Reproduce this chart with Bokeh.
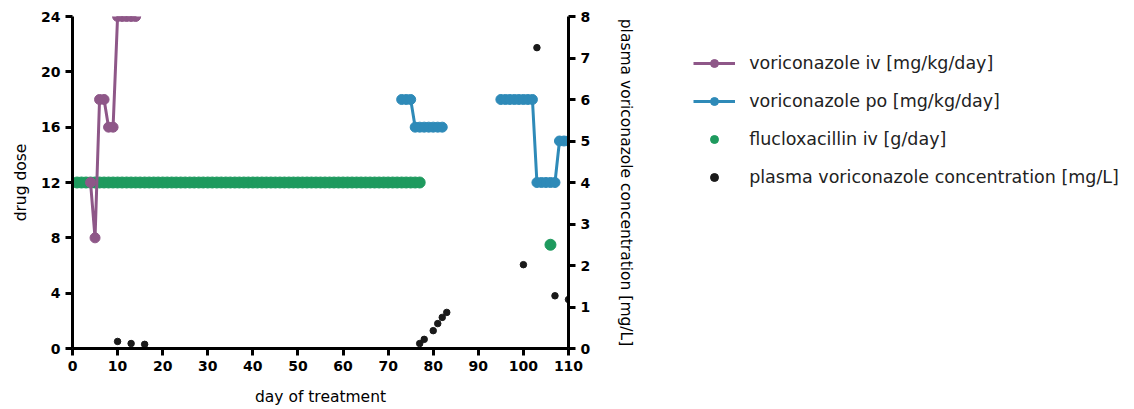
import numpy as np
from bokeh.plotting import figure
from bokeh.models import Range1d, LinearAxis, Legend, LegendItem, FixedTicker
from bokeh.embed import file_html
from bokeh.resources import INLINE

# voriconazole iv [mg/kg/day]
iv_days = [4, 5, 6, 7, 8, 9, 10, 11, 12, 13, 14]
iv_dose = [12, 8, 18, 18, 16, 16, 24, 24, 24, 24, 24]

# voriconazole po [mg/kg/day] (two courses)
po1_days = [73, 74, 75, 76, 77, 78, 79, 80, 81, 82]
po1_dose = [18, 18, 18, 16, 16, 16, 16, 16, 16, 16]
po2_days = [95, 96, 97, 98, 99, 100, 101, 102, 103, 104, 105, 106, 107, 108, 109, 110]
po2_dose = [18, 18, 18, 18, 18, 18, 18, 18, 12, 12, 12, 12, 12, 15, 15, 15]

# flucloxacillin iv [g/day]
flu_days = list(range(1, 78)) + [106]
flu_dose = [12] * 77 + [7.5]

# plasma voriconazole concentration [mg/L]
conc_days = [10, 13, 16, 77, 78, 80, 81, 82, 83, 100, 103, 107, 110]
conc_vals = [0.17, 0.12, 0.10, 0.12, 0.22, 0.43, 0.60, 0.75, 0.87, 2.02, 7.25, 1.27, 1.18]

x_ticks = list(range(0, 111, 10))
left_ticks = list(range(0, 25, 4))
right_ticks = list(range(0, 9))

PURPLE = "#8E5788"
BLUE = "#2E8AB8"
GREEN = "#1E9A5E"
BLACK = "#1a1a1a"
FONT = "DejaVu Sans"

p = figure(frame_width=496, frame_height=332, output_backend="svg", toolbar_location=None,
           x_range=Range1d(0, 110), y_range=Range1d(0, 24),
           min_border_left=72, min_border_top=16, min_border_bottom=0, min_border_right=560)
p.extra_y_ranges = {"conc": Range1d(0, 8)}
p.grid.visible = False
p.outline_line_color = None
p.background_fill_color = "white"

def style_axis(ax):
    ax.axis_line_width = 3
    ax.axis_line_color = "black"
    ax.major_tick_line_width = 3
    ax.major_tick_line_color = "black"
    ax.major_tick_out = 7
    ax.major_tick_in = 0
    ax.minor_tick_line_color = None
    ax.major_label_text_font = FONT
    ax.major_label_text_font_style = "bold"
    ax.major_label_text_font_size = "14px"
    ax.major_label_text_color = "black"
    ax.axis_label_text_font = FONT
    ax.axis_label_text_font_style = "normal"
    ax.axis_label_text_font_size = "15.5px"
    ax.axis_label_text_color = "black"

p.xaxis.ticker = FixedTicker(ticks=x_ticks)
p.xaxis.axis_label = "day of treatment"
p.yaxis.ticker = FixedTicker(ticks=left_ticks)
p.yaxis.axis_label = "drug dose"
style_axis(p.xaxis[0])
style_axis(p.yaxis[0])
p.xaxis.axis_label_standoff = 14
p.yaxis.axis_label_standoff = 8

raxis = LinearAxis(y_range_name="conc", ticker=FixedTicker(ticks=right_ticks),
                   axis_label="plasma voriconazole concentration [mg/L]")
style_axis(raxis)
raxis.axis_label_standoff = 24
p.add_layout(raxis, "right")

# flucloxacillin
r_flu = p.scatter(flu_days, flu_dose, size=11, color=GREEN, line_color=GREEN)

# voriconazole iv
l_iv = p.line(iv_days, iv_dose, line_width=3, color=PURPLE)
s_iv = p.scatter(iv_days, iv_dose, size=10, color=PURPLE)

# voriconazole po
l_po1 = p.line(po1_days, po1_dose, line_width=3, color=BLUE)
s_po1 = p.scatter(po1_days, po1_dose, size=10, color=BLUE)
l_po2 = p.line(po2_days, po2_dose, line_width=3, color=BLUE)
s_po2 = p.scatter(po2_days, po2_dose, size=10, color=BLUE)

# plasma concentration
r_conc = p.scatter(conc_days, conc_vals, size=6.5, color=BLACK, y_range_name="conc")

legend = Legend(items=[
    LegendItem(label="voriconazole iv [mg/kg/day]", renderers=[l_iv, s_iv]),
    LegendItem(label="voriconazole po [mg/kg/day]", renderers=[l_po1, s_po1]),
    LegendItem(label="flucloxacillin iv [g/day]", renderers=[r_flu]),
    LegendItem(label="plasma voriconazole concentration [mg/L]", renderers=[r_conc]),
], location=(-174, 161))
legend.border_line_color = None
legend.background_fill_alpha = 0
legend.label_text_font = FONT
legend.label_text_font_size = "17.5px"
legend.label_text_color = "#222222"
legend.glyph_width = 42
legend.glyph_height = 20
legend.label_height = 20
legend.spacing = 18
legend.label_standoff = 14
legend.margin = 0
legend.padding = 10
p.add_layout(legend, "right")

open("out.html", "w").write(file_html(p, INLINE))
